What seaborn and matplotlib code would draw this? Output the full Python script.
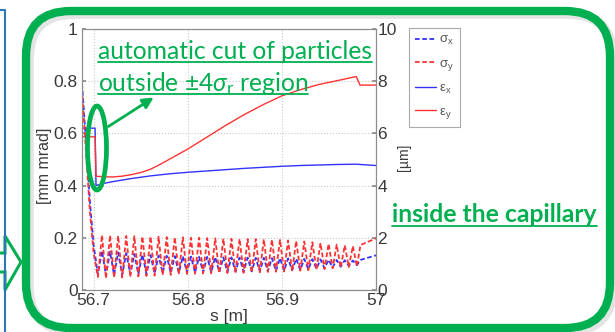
import matplotlib
matplotlib.use('Agg')
import matplotlib.pyplot as plt
import seaborn as sns
from matplotlib.patches import FancyBboxPatch, Ellipse, Polygon, FancyArrowPatch
from matplotlib.lines import Line2D

# ---- data ----
# emittances [mm mrad], left axis
s_eps = [56.6876, 56.7015, 56.7025, 56.71, 56.72, 56.73, 56.74, 56.75, 56.76, 56.77,
         56.78, 56.79, 56.80, 56.82, 56.84, 56.86, 56.88, 56.90, 56.92, 56.94,
         56.96, 56.979, 56.983, 57.0]
eps_x = [0.62, 0.62, 0.40, 0.408, 0.415, 0.421, 0.427, 0.432, 0.437, 0.441,
         0.445, 0.448, 0.451, 0.456, 0.461, 0.466, 0.470, 0.474, 0.477, 0.479,
         0.481, 0.482, 0.481, 0.477]
eps_y = [0.587, 0.587, 0.436, 0.434, 0.433, 0.436, 0.442, 0.450, 0.462, 0.480,
         0.500, 0.520, 0.540, 0.585, 0.630, 0.672, 0.710, 0.744, 0.768, 0.788,
         0.803, 0.818, 0.785, 0.785]

# beam sizes [um], right axis: initial drop, oscillation turning points, exit
s_sig_head = [56.6876, 56.692, 56.696, 56.700, 56.7045]
sig_x_head = [7.9, 5.6, 3.4, 1.7, 0.6]
sig_y_head = [7.7, 5.2, 3.0, 1.4, 0.5]

s_peak = [56.7088, 56.7174, 56.7260, 56.7346, 56.7432, 56.7518, 56.7604, 56.7690,
          56.7776, 56.7862, 56.7948, 56.8034, 56.8120, 56.8206, 56.8292, 56.8378,
          56.8464, 56.8550, 56.8636, 56.8722, 56.8808, 56.8894, 56.8980, 56.9066,
          56.9152, 56.9238, 56.9324, 56.9410, 56.9496, 56.9582, 56.9668, 56.9754]
s_trough = [56.7131, 56.7217, 56.7303, 56.7389, 56.7475, 56.7561, 56.7647, 56.7733,
            56.7819, 56.7905, 56.7991, 56.8077, 56.8163, 56.8249, 56.8335, 56.8421,
            56.8507, 56.8593, 56.8679, 56.8765, 56.8851, 56.8937, 56.9023, 56.9109,
            56.9195, 56.9281, 56.9367, 56.9453, 56.9539, 56.9625, 56.9711, 56.9797]
sig_y_peak = [2.1, 2.1, 2.08, 2.07, 2.06, 2.05, 2.05, 2.04, 2.03, 2.02, 2.02, 2.0,
              2.0, 1.99, 1.98, 1.97, 1.96, 1.96, 1.95, 1.95, 1.94, 1.93, 1.92, 1.9,
              1.88, 1.86, 1.83, 1.8, 1.77, 1.74, 1.71, 1.68]
sig_y_trough = [0.45, 0.47, 0.48, 0.5, 0.52, 0.54, 0.55, 0.57, 0.58, 0.6, 0.61, 0.62,
                0.63, 0.64, 0.65, 0.65, 0.66, 0.66, 0.67, 0.68, 0.69, 0.7, 0.71, 0.72,
                0.74, 0.76, 0.78, 0.8, 0.83, 0.86, 0.88, 0.9]
sig_x_peak = [1.5, 1.47, 1.44, 1.41, 1.38, 1.36, 1.34, 1.32, 1.31, 1.3, 1.29, 1.28,
              1.27, 1.27, 1.26, 1.25, 1.25, 1.24, 1.24, 1.23, 1.23, 1.22, 1.22, 1.21,
              1.2, 1.19, 1.18, 1.17, 1.16, 1.15, 1.14, 1.13]
sig_x_trough = [0.55, 0.57, 0.58, 0.6, 0.61, 0.62, 0.63, 0.64, 0.65, 0.66, 0.67, 0.67,
                0.68, 0.68, 0.69, 0.69, 0.7, 0.7, 0.71, 0.71, 0.72, 0.73, 0.74, 0.75,
                0.77, 0.79, 0.81, 0.83, 0.86, 0.89, 0.92, 0.95]

s_sig_tail = [56.9835, 57.0]
sig_x_tail = [1.15, 1.33]
sig_y_tail = [1.72, 1.98]

x_ticks = [56.7, 56.8, 56.9, 57.0]
x_ticklabels = ['56.7', '56.8', '56.9', '57']
yl_ticks = [0, 0.2, 0.4, 0.6, 0.8, 1.0]
yl_ticklabels = ['0', '0.2', '0.4', '0.6', '0.8', '1']
yr_ticks = [0, 2, 4, 6, 8, 10]
legend_labels = ['σ$_\\mathregular{x}$', 'σ$_\\mathregular{y}$',
                 'ε$_\\mathregular{x}$', 'ε$_\\mathregular{y}$']


def interleave(head, a, b, tail):
    out = list(head)
    for p, q in zip(a, b):
        out += [p, q]
    return out + list(tail)


s_sig = interleave(s_sig_head, s_peak, s_trough, s_sig_tail)
sig_x = interleave(sig_x_head, sig_x_peak, sig_x_trough, sig_x_tail)
sig_y = interleave(sig_y_head, sig_y_peak, sig_y_trough, sig_y_tail)

# ---- style ----
sns.set_theme(style='white')
plt.rcParams['font.family'] = ['Liberation Sans', 'DejaVu Sans']
plt.rcParams['mathtext.fontset'] = 'custom'
plt.rcParams['mathtext.rm'] = 'Lato'
plt.rcParams['mathtext.it'] = 'Lato:italic'
plt.rcParams['mathtext.bf'] = 'Lato:bold'

GREEN = '#00B050'
TXT = '#3a3a3a'
GRAY = '#8c8c8c'
W, H = 615, 332

fig = plt.figure(figsize=(W / 100, H / 100), dpi=100)

# background overlay in pixel units (green box, side arrow, blue frame)
bg = fig.add_axes([0, 0, 1, 1], zorder=0)
bg.set_xlim(0, W)
bg.set_ylim(H, 0)
bg.axis('off')
# soft shadow of the green box
bg.add_patch(FancyBboxPatch((29, 14), 584, 317,
                            boxstyle='round,pad=0,rounding_size=45',
                            fill=False, ec='#d9d9d9', lw=7, alpha=0.7))
bg.add_patch(FancyBboxPatch((26, 11), 584, 317,
                            boxstyle='round,pad=0,rounding_size=45',
                            fill=False, ec=GREEN, lw=6.0))
bg.add_line(Line2D([5, 5, 0], [332, 10, 10], color='#2E75B6', lw=1.5))
bg.add_patch(Polygon([(0, 253), (5, 253), (5, 236), (21, 262), (5, 290), (5, 272), (0, 272)],
                     closed=False, fill=False, ec=GREEN, lw=2.2))

# ---- main plot ----
ax = fig.add_axes([82 / W, 1 - 290 / H, 294 / W, 261 / H], zorder=2)
ax2 = ax.twinx()

sns.lineplot(x=s_sig, y=sig_x, ax=ax2, color='#3333ff', lw=1.3, ls='--',
             estimator=None, sort=False)
sns.lineplot(x=s_sig, y=sig_y, ax=ax2, color='#ff3333', lw=1.3, ls='--',
             estimator=None, sort=False)
sns.lineplot(x=s_eps, y=eps_x, ax=ax, color='#3333ff', lw=1.0,
             estimator=None, sort=False)
sns.lineplot(x=s_eps, y=eps_y, ax=ax, color='#ff3333', lw=1.0,
             estimator=None, sort=False)
for ln in ax2.lines:
    ln.set_dashes([2.6, 1.4])

ax.set_xlim(56.6876, 57.0)
ax.set_ylim(0, 1)
ax2.set_ylim(0, 10)
ax.set_xticks(x_ticks)
ax.set_xticklabels(x_ticklabels)
ax.set_yticks(yl_ticks)
ax.set_yticklabels(yl_ticklabels)
ax2.set_yticks(yr_ticks)
ax.set_xlabel('')
ax.set_ylabel('')
ax2.set_ylabel('')
ax.grid(True, ls=':', color='#c8c8c8', lw=0.8)
ax.tick_params(direction='in', length=3, color=GRAY, labelcolor=TXT, labelsize=12.5)
ax.tick_params(axis='y', pad=3)
ax.tick_params(axis='x', pad=2)
ax2.tick_params(direction='in', length=3, color=GRAY, labelcolor=TXT, labelsize=12.5, pad=1)
for a in (ax, ax2):
    for sp in a.spines.values():
        sp.set_color(GRAY)
        sp.set_linewidth(0.8)
ax.patch.set_alpha(0)

handles = list(ax2.lines[:2]) + list(ax.lines[:2])
leg = fig.legend(handles, legend_labels, loc='upper left',
                 bbox_to_anchor=(409 / W, 1 - 28 / H), borderaxespad=0,
                 fontsize=9.5, handlelength=1.6, handletextpad=0.2,
                 labelspacing=0.75, borderpad=0.45, fancybox=False,
                 labelcolor='#555555', edgecolor='#aaaaaa', framealpha=1)
leg.get_frame().set_linewidth(0.8)

# ---- foreground overlay: axis titles, annotations ----
fg = fig.add_axes([0, 0, 1, 1], zorder=5)
fg.set_xlim(0, W)
fg.set_ylim(H, 0)
fg.axis('off')

fg.text(44, 166, '[mm mrad]', rotation=90, ha='center', va='center', fontsize=11.5, color=TXT)
fg.text(404, 157, '[µm]', rotation=90, ha='center', va='center', fontsize=10, color=TXT)
fg.text(229, 317, 's [m]', ha='center', va='center', fontsize=12.5, color=TXT)

fg.add_patch(Ellipse((97, 148), 19, 84, fill=False, ec=GREEN, lw=3.4))
fg.add_patch(FancyArrowPatch((106, 128), (156, 96), arrowstyle='-|>',
                             mutation_scale=16, lw=2.0, color=GREEN))

t1 = fg.text(98, 59, 'automatic cut of particles', fontfamily='Lato', fontsize=15,
             color=GREEN, va='baseline', ha='left')
t2 = fg.text(98, 91, 'outside ±4$\\sigma_{\\mathrm{r}}$ region', fontfamily='Lato',
             fontsize=15, color=GREEN, va='baseline', ha='left')
t3 = fg.text(392, 222, 'inside the capillary', fontfamily='Lato', fontsize=15,
             fontweight='bold', color=GREEN, va='baseline', ha='left')


def fit_width(t, target):
    fig.canvas.draw()
    w = t.get_window_extent().width
    t.set_fontsize(t.get_fontsize() * target / w)


fit_width(t1, 275)
t2.set_fontsize(t1.get_fontsize())
fit_width(t3, 206)
fig.canvas.draw()

inv = fg.transData.inverted()
for t, yline in ((t1, 62), (t2, 94), (t3, 226)):
    bb = t.get_window_extent()
    x0 = inv.transform((bb.x0, bb.y0))[0]
    x1 = inv.transform((bb.x1, bb.y0))[0]
    fg.add_line(Line2D([x0, x1], [yline, yline], color=GREEN, lw=1.3))

fig.savefig('out.png', dpi=100)
